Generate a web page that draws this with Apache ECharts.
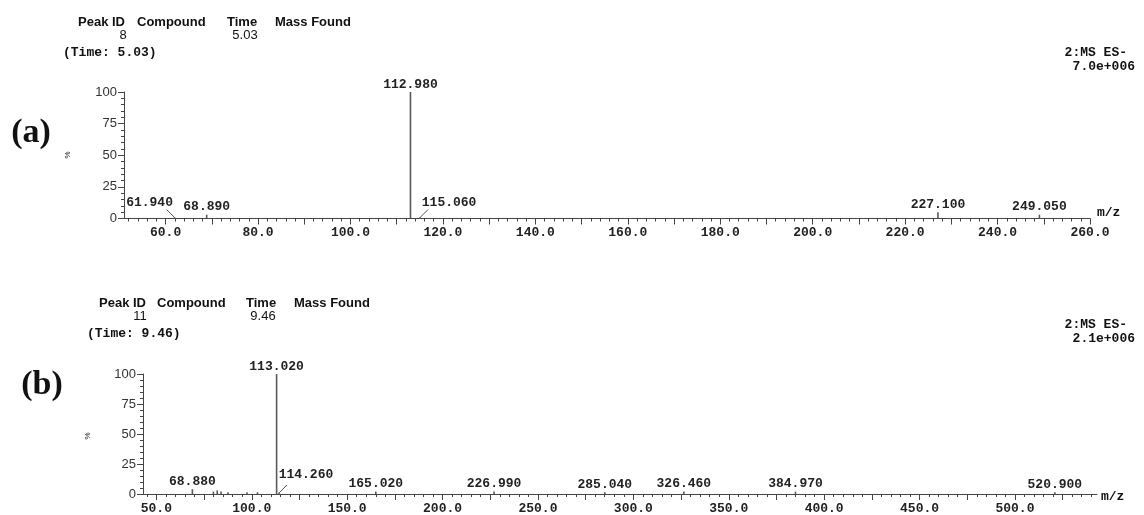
<!DOCTYPE html>
<html><head><meta charset="utf-8">
<script src="https://cdn.jsdelivr.net/npm/echarts@6/dist/echarts.min.js"></script>
<style>html,body{margin:0;padding:0;background:#fff}#c{width:1144px;height:515px}</style>
</head><body><div id="c"></div>
<script>
// ---------- Panel (a) data ----------
const peaksA_mz = [61.94, 68.89, 112.98, 115.06, 227.10, 249.05];
const peaksA_int = [1, 3, 100, 1, 5, 3];
const peaksA_labeled = [1, 1, 1, 1, 1, 1];
const xLabelsA = [60, 80, 100, 120, 140, 160, 180, 200, 220, 240, 260];
const headerA = { peakId: '8', time: '5.03', timeLine: '(Time: 5.03)', scan: '2:MS ES-', tic: '7.0e+006' };

// ---------- Panel (b) data ----------
const peaksB_mz = [68.88, 79.9, 81.9, 83.9, 87.5, 97.5, 103.0, 113.02, 114.26, 165.02, 226.99, 285.04, 326.46, 384.97, 520.90];
const peaksB_int = [4, 2, 3, 2, 1.5, 1.5, 1.5, 100, 1, 2, 2, 1.5, 2, 2, 1.5];
const peaksB_labeled = [1, 0, 0, 0, 0, 0, 0, 1, 1, 1, 1, 1, 1, 1, 1];
const xLabelsB = [50, 100, 150, 200, 250, 300, 350, 400, 450, 500];
const headerB = { peakId: '11', time: '9.46', timeLine: '(Time: 9.46)', scan: '2:MS ES-', tic: '2.1e+006' };

const yLabels = [0, 25, 50, 75, 100];

// ---------- styles ----------
const leaderShift = { 'a:61.94': [-25, -16], 'a:115.06': [29, -16], 'b:114.26': [27, -19] };
const MONO = 'bold 13px "Liberation Mono", "DejaVu Sans Mono", monospace';
const SANS_B = 'bold 13px "Liberation Sans", Arial, sans-serif';
const SANS = '13px "Liberation Sans", Arial, sans-serif';
const AX = '#444';

function range(a, b, s) { const r = []; for (let v = a; v <= b + 1e-9; v += s) r.push(+v.toFixed(3)); return r; }

function makeRender(panel) {
  return function (params, api) {
    const mz = api.value(0), h = api.value(1), lab = api.value(2);
    const base = api.coord([mz, 0]);
    const top = api.coord([mz, h]);
    const ch = [{ type: 'line', shape: { x1: base[0], y1: base[1], x2: top[0], y2: top[1] },
      style: { stroke: '#5a5a5a', lineWidth: 1.6 } }];
    if (lab) {
      const txt = mz.toFixed(3);
      const sh = leaderShift[panel + ':' + mz.toFixed(2)];
      if (sh) {
        ch.push({ type: 'line', shape: { x1: base[0], y1: base[1] - 1, x2: base[0] + Math.sign(sh[0]) * 8, y2: base[1] - 9 },
          style: { stroke: '#555', lineWidth: 1 } });
        ch.push({ type: 'text', style: { text: txt, x: base[0] + sh[0], y: base[1] + sh[1], align: 'center', verticalAlign: 'middle', font: MONO, fill: '#222' } });
      } else {
        ch.push({ type: 'text', style: { text: txt, x: top[0], y: top[1] - 1, align: 'center', verticalAlign: 'bottom', font: MONO, fill: '#222' } });
      }
    }
    return { type: 'group', children: ch };
  };
}

function xMain(grid, min, max, labels, majors) {
  return { gridIndex: grid, type: 'value', position: 'bottom', min: min, max: max,
    axisLine: { show: true, lineStyle: { color: AX, width: 1 } },
    axisTick: { show: true, inside: false, length: 6, customValues: majors, lineStyle: { color: AX } },
    axisLabel: { show: true, customValues: labels, formatter: v => v.toFixed(1), margin: 8,
      fontFamily: '"Liberation Mono", monospace', fontWeight: 'bold', fontSize: 13, color: '#222' },
    splitLine: { show: false } };
}
function xMinor(grid, min, max, minors) {
  return { gridIndex: grid, type: 'value', position: 'bottom', min: min, max: max,
    axisLine: { show: false },
    axisTick: { show: true, inside: false, length: 3, customValues: minors, lineStyle: { color: AX } },
    axisLabel: { show: false }, splitLine: { show: false } };
}
function yAx(grid) {
  return { gridIndex: grid, type: 'value', min: 0, max: 100, interval: 25,
    axisLine: { show: true, lineStyle: { color: AX } },
    axisTick: { show: true, length: 6, lineStyle: { color: AX } },
    minorTick: { show: true, splitNumber: 5, length: 3, lineStyle: { color: AX } },
    axisLabel: { show: true, margin: 7, customValues: yLabels, fontFamily: '"Liberation Sans", Arial, sans-serif', fontSize: 13, color: '#333' },
    splitLine: { show: false } };
}

function txt(x, y, s, font, align, extra) {
  return Object.assign({ type: 'text', x: x, y: y, style: { text: s, font: font, fill: '#111', align: align || 'left', verticalAlign: 'middle' } }, extra || {});
}

function header(h, y0, cols, idX, timeX, tlX, rightY) {
  return [
    txt(cols[0], y0, 'Peak ID', SANS_B), txt(cols[1], y0, 'Compound', SANS_B),
    txt(cols[2], y0, 'Time', SANS_B), txt(cols[3], y0, 'Mass Found', SANS_B),
    txt(idX, y0 + 13, h.peakId, SANS, 'center'), txt(timeX, y0 + 13, h.time, SANS, 'center'),
    txt(tlX, y0 + 31, h.timeLine, MONO),
    txt(1127, rightY, h.scan, MONO, 'right'), txt(1135, rightY + 14, h.tic, MONO, 'right')
  ];
}

const chart = echarts.init(document.getElementById('c'), null, { renderer: 'canvas' });
const dataA = peaksA_mz.map((m, i) => [m, peaksA_int[i], peaksA_labeled[i]]);
const dataB = peaksB_mz.map((m, i) => [m, peaksB_int[i], peaksB_labeled[i]]);

chart.setOption({
  animation: false,
  backgroundColor: '#fff',
  grid: [
    { left: 124, right: 54, top: 92, bottom: 296.5 },
    { left: 143, right: 47, top: 374, bottom: 18 }
  ],
  xAxis: [
    xMain(0, 51, 260, xLabelsA, range(60, 260, 10)),
    xMinor(0, 51, 260, range(52, 258, 2)),
    xMain(1, 43, 543, xLabelsB, range(50, 525, 25)),
    xMinor(1, 43, 543, range(45, 540, 5))
  ],
  yAxis: [ yAx(0), yAx(1) ],
  series: [
    { type: 'custom', xAxisIndex: 0, yAxisIndex: 0, data: dataA, renderItem: makeRender('a'), clip: false, encode: { x: 0, y: 1 } },
    { type: 'custom', xAxisIndex: 2, yAxisIndex: 1, data: dataB, renderItem: makeRender('b'), clip: false, encode: { x: 0, y: 1 } }
  ],
  graphic: [].concat(
    header(headerA, 22, [78, 137, 227, 275], 123, 245, 63, 53),
    header(headerB, 303, [99, 157, 246, 294], 140, 263, 87, 325),
    [
      txt(31, 133, '(a)', 'bold 34px "Liberation Serif", "Times New Roman", serif', 'center'),
      txt(42, 385, '(b)', 'bold 34px "Liberation Serif", "Times New Roman", serif', 'center'),
      txt(68, 155, '%', '8px "Liberation Sans", sans-serif', 'center', { rotation: Math.PI / 2 }),
      txt(88, 436, '%', '8px "Liberation Sans", sans-serif', 'center', { rotation: Math.PI / 2 }),
      txt(1097, 213, 'm/z', MONO),
      txt(1101, 497, 'm/z', MONO)
    ]
  )
});
</script>
</body></html>
